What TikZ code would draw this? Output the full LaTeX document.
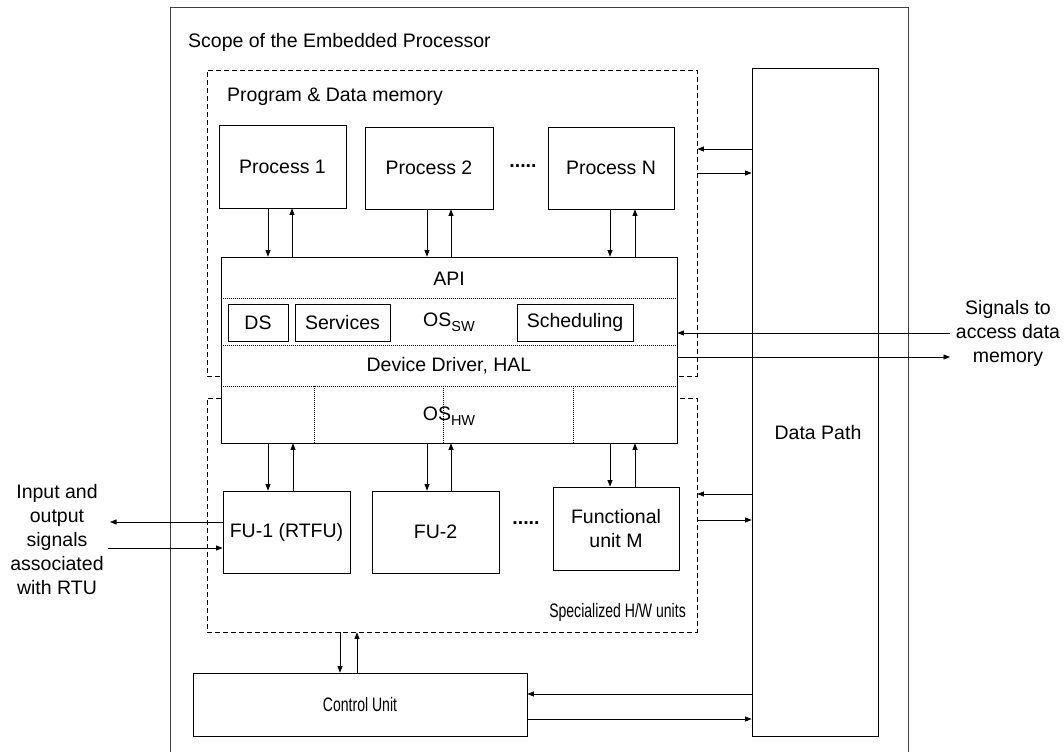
\documentclass[tikz,border=0pt]{standalone}
\usepackage{fontspec}
\setmainfont{Liberation Sans}
\usetikzlibrary{arrows.meta,calc}
\newcommand{\mysub}[1]{\raisebox{-5pt}{\fontsize{14.5}{14.5}\selectfont #1}}
\newcommand{\cond}[1]{\scalebox{0.72}[1]{#1}}
\begin{document}
\begin{tikzpicture}[x=1pt,y=-1pt,
  every node/.style={font=\fontsize{19.5}{24}\selectfont},
  box/.style={draw,line width=0.8pt,rectangle,inner sep=0pt,fill=white},
  dbox/.style={draw,dash pattern=on 5pt off 3pt,line width=0.8pt,rectangle,inner sep=0pt},
  arr/.style={-{Triangle[length=6.5pt,width=5pt]},line width=0.7pt},
  sepline/.style={dash pattern=on 1pt off 1pt,line width=0.6pt},
  outer/.style={line width=1pt,draw=black!75}]
\useasboundingbox (0,0) rectangle (1064,752);
% outer scope frame
\draw[outer] (170,752) -- (170,8) -- (908,8) -- (908,752);
\node[anchor=west,inner sep=0pt] (scope) at (188,42) {Scope of the Embedded Processor};
% dashed regions
\node[dbox,minimum width=490,minimum height=306] (pdm) at (452,223) {};
\node[dbox,minimum width=490,minimum height=234] (shw) at (452,515) {};
\node[anchor=west,inner sep=0pt] (pdmlbl) at (227,97) {Program \& Data memory};
\node[anchor=east,inner sep=0pt] (shwlbl) at (686,612) {\cond{Specialized H/W units}};
% data path
\node[box,minimum width=126,minimum height=668] (dp) at (815,402) {};
\node (dplbl) at (818,433) {Data Path};
% processes
\node[box,minimum width=127,minimum height=83] (p1) at (282.5,166.5) {Process 1};
\node[box,minimum width=128,minimum height=82] (p2) at (429,168) {Process 2};
\node[box,minimum width=126,minimum height=82] (pn) at (611,168) {Process N};
\node (pdots) at (523,166) {\textbf{.....}};
% OS block
\node[box,minimum width=456,minimum height=186] (os) at (449,350) {};
\draw[sepline] (os.west |- 0,298) -- (os.east |- 0,298);
\draw[sepline] (os.west |- 0,345) -- (os.east |- 0,345);
\draw[sepline] (os.west |- 0,386) -- (os.east |- 0,386);
\draw[sepline] (os.south -| 314,0) -- (314,386);
\draw[sepline] (os.south -| 443,0) -- (443,386);
\draw[sepline] (os.south -| 573,0) -- (573,386);
\node (api) at (449,279) {API};
\node[box,minimum width=60,minimum height=37] (ds) at (258,322.5) {DS};
\node[box,minimum width=95,minimum height=37] (serv) at (342.5,322.5) {Services};
\node[box,minimum width=116,minimum height=37] (sched) at (575,322.5) {Scheduling};
\node (ossw) at (449,322) {OS\mysub{SW}};
\node (ddhal) at (449,366) {Device Driver, HAL};
\node (oshw) at (449,416) {OS\mysub{HW}};
% functional units
\node[box,minimum width=127,minimum height=82] (fu1) at (286.5,532) {FU-1 (RTFU)};
\node[box,minimum width=127,minimum height=82] (fu2) at (435.5,532) {FU-2};
\node[box,minimum width=126,minimum height=83,align=center] (fum) at (616,528.5) {Functional\\unit M};
\node (fdots) at (526,523) {\textbf{.....}};
% control unit
\node[box,minimum width=334,minimum height=63] (cu) at (360,704.5) {\cond{Control Unit}};
% process <-> OS arrows
\draw[arr] (p1.south -| 268,0) -- (os.north -| 268,0);
\draw[arr] (os.north -| 292,0) -- (p1.south -| 292,0);
\draw[arr] (p2.south -| 427,0) -- (os.north -| 427,0);
\draw[arr] (os.north -| 451,0) -- (p2.south -| 451,0);
\draw[arr] (pn.south -| 610,0) -- (os.north -| 610,0);
\draw[arr] (os.north -| 635,0) -- (pn.south -| 635,0);
% OS <-> FU arrows
\draw[arr] (os.south -| 268,0) -- (fu1.north -| 268,0);
\draw[arr] (fu1.north -| 293,0) -- (os.south -| 293,0);
\draw[arr] (os.south -| 427,0) -- (fu2.north -| 427,0);
\draw[arr] (fu2.north -| 451,0) -- (os.south -| 451,0);
\draw[arr] (os.south -| 610,0) -- (fum.north -| 610,0);
\draw[arr] (fum.north -| 635,0) -- (os.south -| 635,0);
% specialized HW <-> control unit
\draw[arr] (shw.south -| 340,0) -- (cu.north -| 340,0);
\draw[arr] (cu.north -| 357,0) -- (shw.south -| 357,0);
% data path connections
\draw[arr] (dp.west |- 0,149) -- (pdm.east |- 0,149);
\draw[arr] (pdm.east |- 0,173) -- (dp.west |- 0,173);
\draw[arr] (dp.west |- 0,494) -- (shw.east |- 0,494);
\draw[arr] (shw.east |- 0,520) -- (dp.west |- 0,520);
\draw[arr] (dp.west |- 0,694) -- (cu.east |- 0,694);
\draw[arr] (cu.east |- 0,719) -- (dp.west |- 0,719);
% external signals
\coordinate (si) at (950,333);
\coordinate (so) at (950,357);
\draw[arr] (si) -- (os.east |- si);
\draw[arr] (os.east |- so) -- (so);
\node[align=center,inner sep=0pt] (sigtxt) at (1008,333) {Signals to\\access data\\memory};
\coordinate (lo) at (110,522);
\coordinate (li) at (108,548);
\draw[arr] (fu1.west |- lo) -- (lo);
\draw[arr] (li) -- (fu1.west |- li);
\node[align=center,inner sep=0pt] (iotxt) at (57,540) {Input and\\output\\signals\\associated\\with RTU};
\end{tikzpicture}
\end{document}
